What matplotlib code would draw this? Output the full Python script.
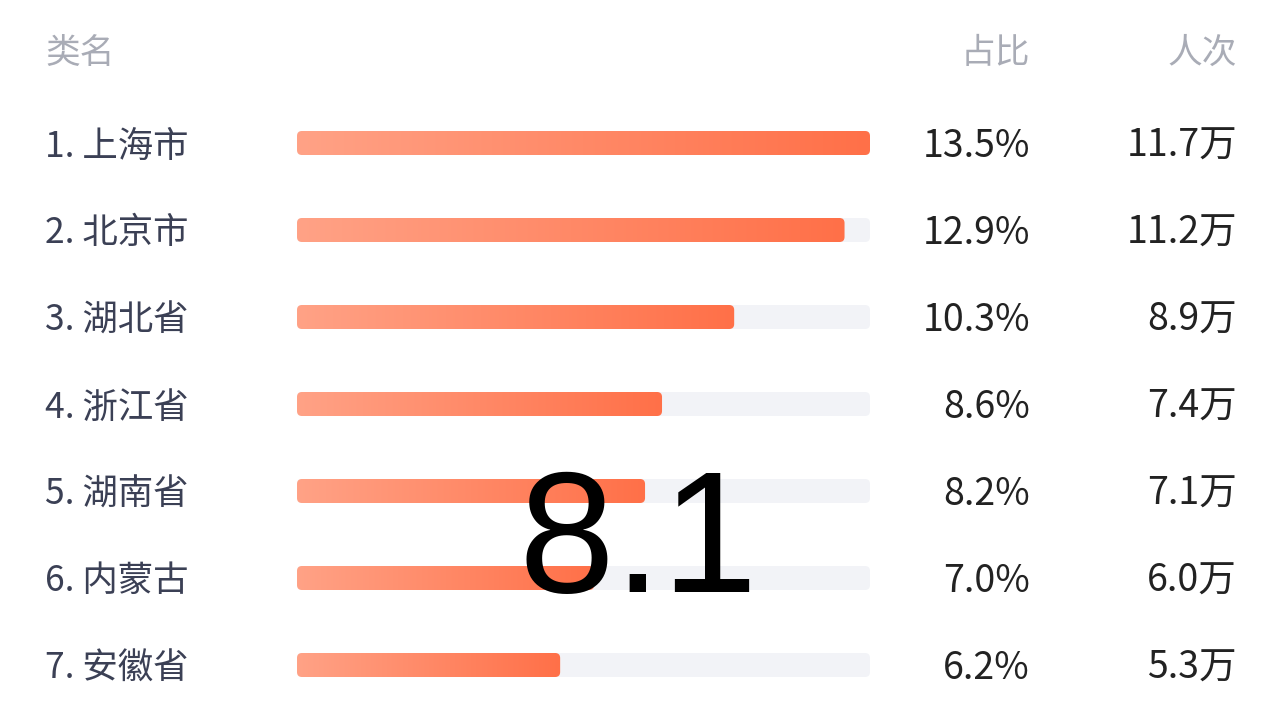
import matplotlib
matplotlib.use("Agg")
import matplotlib.pyplot as plt
import numpy as np
from matplotlib.patches import FancyBboxPatch
from matplotlib.colors import LinearSegmentedColormap

# ── data ─────────────────────────────────────────────────────────────────────
names   = ["上海市", "北京市", "湖北省", "浙江省", "湖南省", "内蒙古", "安徽省"]
shares  = [13.5, 12.9, 10.3, 8.6, 8.2, 7.0, 6.2]      # 占比, %
visits  = [11.7, 11.2, 8.9, 7.4, 7.1, 6.0, 5.3]       # 人次, 万
headers = ["类名", "占比", "人次"]
overlay = "8.1"
# ─────────────────────────────────────────────────────────────────────────────

plt.rcParams["font.family"] = ["Noto Sans CJK SC", "DejaVu Sans"]

W, H, DPI = 1284, 706, 100
fig = plt.figure(figsize=(W / DPI, H / DPI), dpi=DPI)
fig.patch.set_facecolor("white")

n = len(names)
row_h = 87            # px per row
first = 143           # px, centre of first row from top
top = first - row_h / 2
bottom = top + n * row_h
bar_x0, bar_x1 = 297, 870

ax = fig.add_axes([bar_x0 / W, (H - bottom) / H,
                   (bar_x1 - bar_x0) / W, (bottom - top) / H])
ax.set_axis_off()

xmax = max(shares)
bar_h = 24 / row_h
r_px = 5
r_x = r_px * xmax / (bar_x1 - bar_x0)
aspect = (r_px / row_h) / r_x

cmap = LinearSegmentedColormap.from_list("bar", ["#FFA286", "#FF7048"])
grad = np.linspace(0, 1, 256).reshape(1, -1)

for i, v in enumerate(shares):
    track = FancyBboxPatch((0, i - bar_h / 2), xmax, bar_h,
                           boxstyle=f"round,pad=0,rounding_size={r_x}",
                           mutation_aspect=aspect,
                           facecolor="#F2F3F7", edgecolor="none", zorder=1)
    ax.add_patch(track)
    clip = FancyBboxPatch((0, i - bar_h / 2), v, bar_h,
                          boxstyle=f"round,pad=0,rounding_size={r_x}",
                          mutation_aspect=aspect,
                          facecolor="none", edgecolor="none")
    ax.add_patch(clip)
    im = ax.imshow(grad, cmap=cmap, aspect="auto", zorder=2,
                   extent=(0, v, i + bar_h / 2, i - bar_h / 2))
    im.set_clip_path(clip)

ax.set_xlim(0, xmax)
ax.set_ylim(n - 0.5, -0.5)

# row texts
dy = -2.5  # points
for i, (nm, s, c) in enumerate(zip(names, shares, visits)):
    ax.annotate(f"{i + 1}. {nm}", (45, i), xycoords=("figure pixels", "data"),
                xytext=(0, dy), textcoords="offset points",
                ha="left", va="center", fontsize=25.5, color="#3B4055")
    ax.annotate(f"{s:.1f}%", (1030, i), xycoords=("figure pixels", "data"),
                xytext=(0, dy), textcoords="offset points",
                ha="right", va="center", fontsize=27, color="#222222")
    ax.annotate(f"{c:.1f}万", (1237, i), xycoords=("figure pixels", "data"),
                xytext=(0, dy), textcoords="offset points",
                ha="right", va="center", fontsize=27, color="#222222")

# header
hy = (H - 53) / H
fig.text(45 / W, hy, headers[0], ha="left", va="center", fontsize=25, color="#A9ACB6")
fig.text(1030 / W, hy, headers[1], ha="right", va="center", fontsize=25, color="#A9ACB6")
fig.text(1237 / W, hy, headers[2], ha="right", va="center", fontsize=25, color="#A9ACB6")

# big overlay number
fig.text(638 / W, (H - 592) / H, overlay, ha="center", va="baseline",
         fontsize=124, color="black", family="Liberation Sans", zorder=10)

fig.savefig("out.png", dpi=DPI, facecolor="white")
